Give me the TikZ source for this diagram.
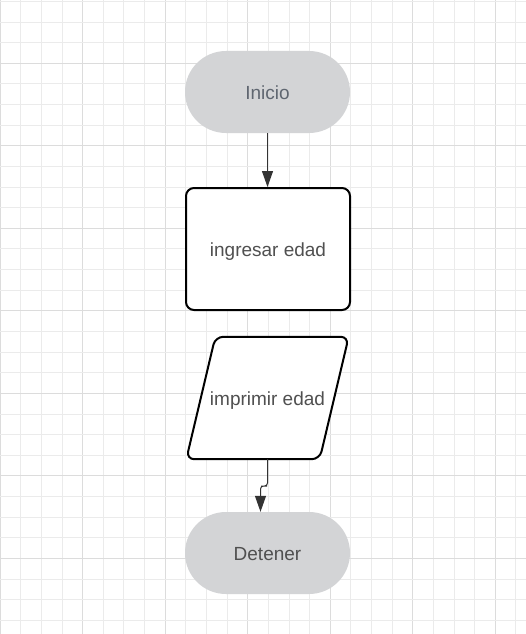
\documentclass[tikz,border=0pt]{standalone}
\usepackage{fontspec}
\setmainfont{Liberation Sans}
\usepackage{xcolor}
\usetikzlibrary{arrows.meta,shapes.geometric}

\definecolor{gridminor}{HTML}{EBEBEB}
\definecolor{gridmajor}{HTML}{DCDCDC}
\definecolor{termfill}{HTML}{D3D4D6}
\definecolor{labelgray}{HTML}{505050}
\definecolor{iniciogray}{HTML}{5F6670}
\definecolor{linkgray}{HTML}{333333}

\begin{document}
\begin{tikzpicture}[x=1pt,y=-1pt,
    label text/.style={text=labelgray,font=\fontsize{19}{23}\selectfont,text height=14pt,text depth=0pt},
    terminal/.style={rectangle,rounded corners=41pt,fill=termfill,minimum width=165pt,minimum height=82pt,label text},
    process/.style={rectangle,draw=black,line width=2pt,rounded corners=8pt,fill=white,minimum width=164pt,minimum height=122pt,label text},
    iobox/.style={rectangle,minimum width=162pt,minimum height=122pt,label text},
    ioline/.style={draw=black,line width=2pt,rounded corners=8pt,fill=white},
    link/.style={draw=linkgray,line width=1pt,-{Triangle[length=16pt,width=11pt]}}]
    \useasboundingbox (0,0) rectangle (526,634);
    \fill[white] (0,0) rectangle (526,634);

    % Grid
    \foreach \i in {0,...,25} {
        \pgfmathtruncatemacro{\major}{mod(\i,4)==0 ? 1 : 0}
        \ifnum\major=1
            \draw[gridmajor,line width=1pt] (0.2+20.63*\i,0) -- (0.2+20.63*\i,634);
        \else
            \draw[gridminor,line width=1pt] (0.2+20.63*\i,0) -- (0.2+20.63*\i,634);
        \fi
    }
    \foreach \j in {0,...,30} {
        \pgfmathtruncatemacro{\major}{mod(\j,4)==3 ? 1 : 0}
        \ifnum\major=1
            \draw[gridmajor,line width=1pt] (0,1.4+20.63*\j) -- (526,1.4+20.63*\j);
        \else
            \draw[gridminor,line width=1pt] (0,1.4+20.63*\j) -- (526,1.4+20.63*\j);
        \fi
    }

    % Flowchart
    \node[terminal,text=iniciogray] (inicio) at (267.5,92) {Inicio};
    \node[process] (ingresar) at (268,249) {ingresar edad};
    \node[iobox] (imprimir) at (267.5,398) {};
    \draw[ioline] ([xshift=29pt]imprimir.north west) -- (imprimir.north east)
        -- ([xshift=-29pt]imprimir.south east) -- (imprimir.south west) -- cycle;
    \node[iobox] at (imprimir.center) {imprimir edad};
    \node[terminal] (detener) at (267.5,553) {Detener};

    % Arrows
    \draw[link] (inicio.south) -- (inicio.south |- ingresar.north);
    \coordinate (jog) at (264,486);
    \draw[link,rounded corners=3pt] (imprimir.south) |- (jog) -| ([xshift=-7pt]detener.north);
\end{tikzpicture}
\end{document}
